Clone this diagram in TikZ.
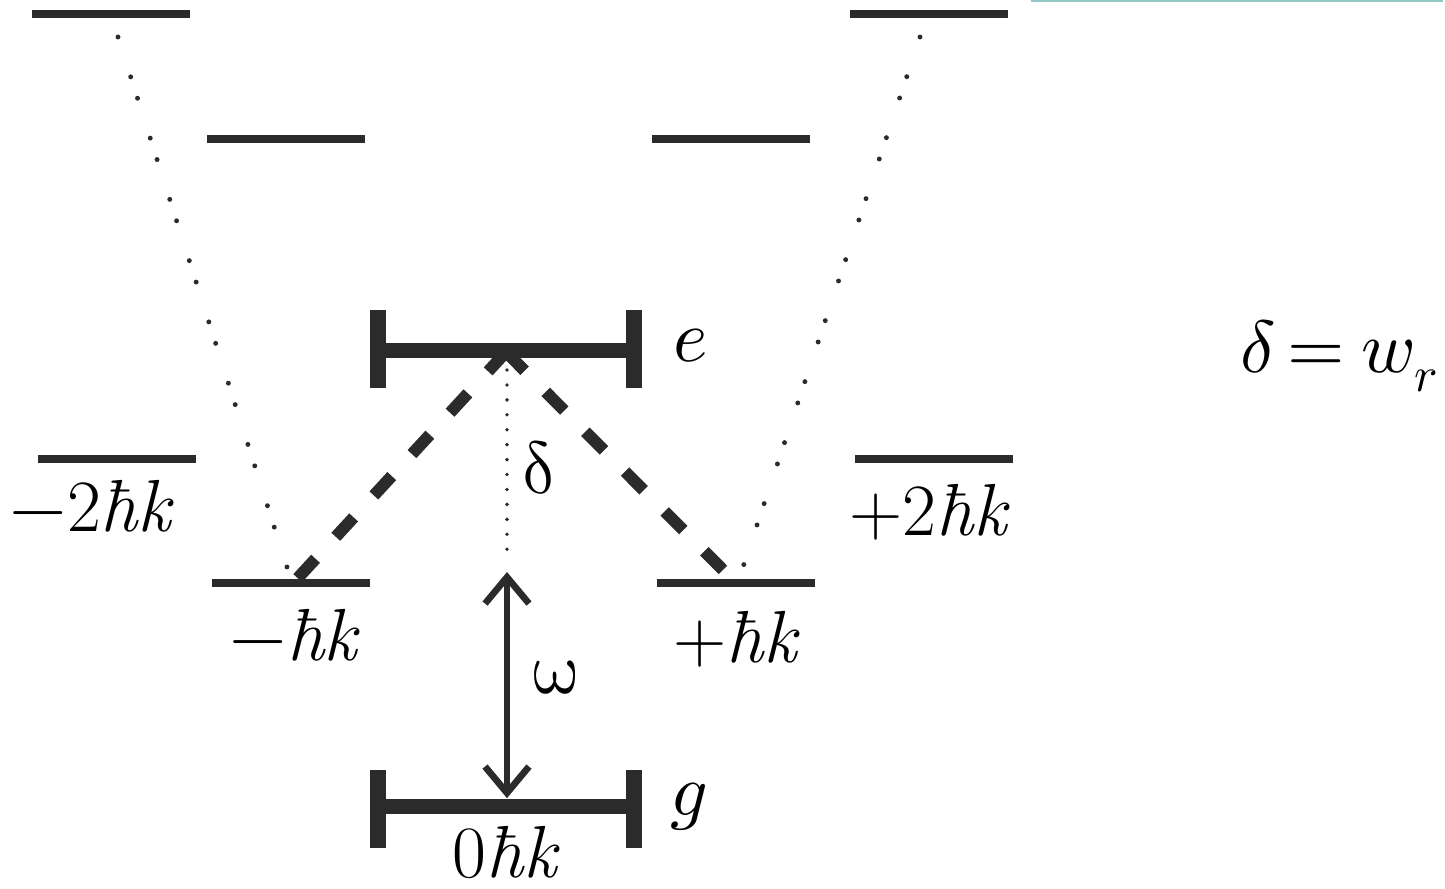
\documentclass[tikz,border=0pt]{standalone}
\usepackage{unicode-math}
\usetikzlibrary{arrows.meta}
\definecolor{barGray}{RGB}{43,43,43}
\definecolor{edgeCyan}{RGB}{150,200,200}

\begin{document}
\begin{tikzpicture}[x=0.02cm,y=-0.02cm]
\tikzset{
    lvBar/.style={rectangle,fill=barGray,inner sep=0pt,minimum width=3.18cm,minimum height=0.15cm},
    lvMain/.style={rectangle,fill=barGray,inner sep=0pt,minimum width=5.12cm,minimum height=0.3cm},
    lvCap/.style={rectangle,fill=barGray,inner sep=0pt,minimum width=0.32cm,minimum height=1.58cm},
    lvLabel/.style={font=\fontsize{42}{48}\selectfont,inner sep=0pt,anchor=base},
    lvDots/.style={barGray,line width=2.8pt,line cap=round,dash pattern=on 0pt off 23.8pt on 0pt off 12.8pt},
    lvFine/.style={barGray,line width=2.2pt,line cap=round,dash pattern=on 0pt off 8.5pt},
    lvDash/.style={barGray,line width=6.8pt,dash pattern=on 15pt off 17pt},
    lvArrow/.style={barGray,line width=3.8pt,{Straight Barb[length=15pt,width=25pt]}-{Straight Barb[length=15pt,width=25pt]}},
}
\useasboundingbox (0,0) rectangle (1445,889);
\draw[edgeCyan,line width=1pt] (1031,1) -- (1443,1);

% momentum levels
\node[lvBar] (tl) at (111,14) {};
\node[lvBar] (tr) at (929,14) {};
\node[lvBar] (sl) at (286,139) {};
\node[lvBar] (sr) at (731,139) {};
\node[lvBar] (m2) at (117,459) {};
\node[lvBar] (p2) at (934,459) {};
\node[lvBar] (m1) at (291,583) {};
\node[lvBar] (p1) at (736,583) {};

% e and g
\node[lvMain] (eBar) at (506,350) {};
\node[lvCap] (eL) at (378,349) {};
\node[lvCap] (eR) at (634,349) {};
\node[lvMain] (gBar) at (506,806) {};
\node[lvCap] (gL) at (378,809) {};
\node[lvCap] (gR) at (634,809) {};

\node[lvLabel] (lE) at (691,361) {$e$};
\node[lvLabel] (lG) at (689,815) {$g$};
\node[lvLabel] (lM2) at (92,531) {$-$2\textit{ħk}};
\node[lvLabel] (lP2) at (930,535) {+2\textit{ħk}};
\node[lvLabel] (lM1) at (295,660) {$-$\textit{ħk}};
\node[lvLabel] (lP1) at (737,662) {+\textit{ħk}};
\node[lvLabel] (lZero) at (506,877) {0\textit{ħk}};
\node[lvLabel] (lDelta) at (539,493) {$\symup{\delta}$};
\node[lvLabel] (lOmega) at (555,693) {$\symup{\omega}$};
\node[lvLabel,anchor=base east] (lRel) at (1438,372)
    {$\delta\mkern3mu{=}\mkern4mu w$\raisebox{-11pt}{\fontsize{28}{30}\selectfont$r$}};

% connectors
\coordinate (eTop) at (506,352);
\coordinate (mEnd) at (296,580);
\coordinate (pEnd) at (733,580);
\coordinate (wTop) at (507,572);
\draw[lvDash] (eTop) -- (mEnd);
\draw[lvDash] (eTop) -- (pEnd);
\draw[lvFine] (507,370) -- (507,556);
\draw[lvArrow] (wTop) -- (wTop |- gBar.north);

\coordinate (tlEnd) at (118,37);
\coordinate (mDot) at (287,567);
\coordinate (trEnd) at (920,37);
\coordinate (pDot) at (743,567);
\draw[lvDots] (tlEnd) -- (mDot);
\draw[lvDots] (trEnd) -- (pDot);
\end{tikzpicture}
\end{document}
